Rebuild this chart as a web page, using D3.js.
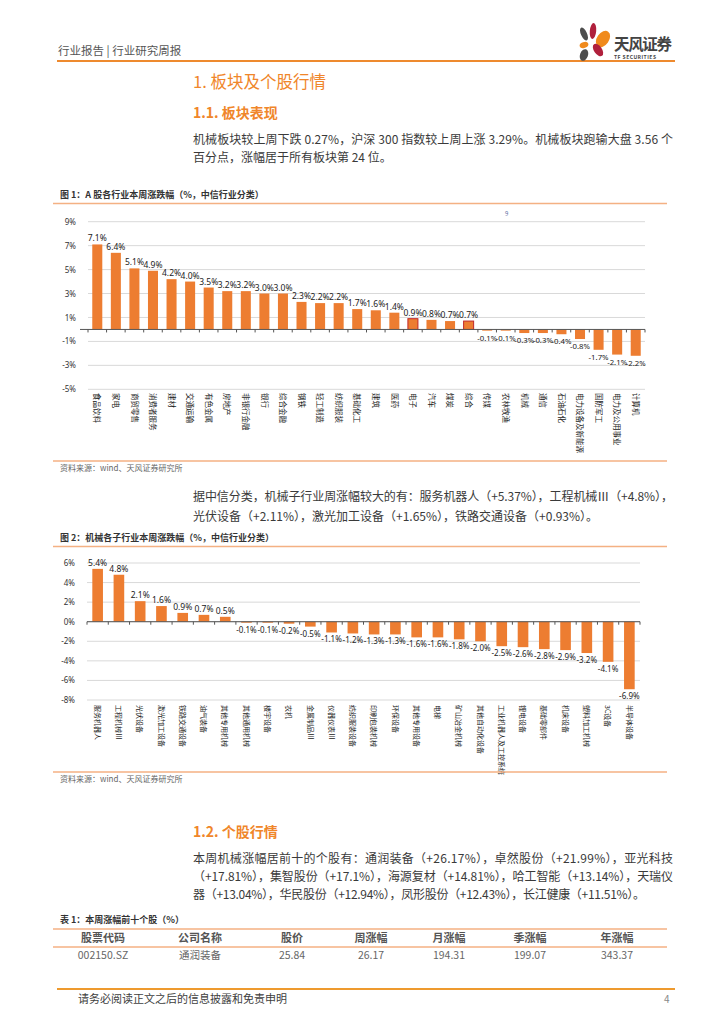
<!DOCTYPE html>
<html><head><meta charset="utf-8">
<script src="https://cdn.jsdelivr.net/npm/d3@7"></script>
<style>
html,body{margin:0;padding:0;background:#fff;}
svg{display:block;font-family:"Noto Sans CJK SC","Noto Sans",sans-serif;}
</style></head>
<body>
<script>
// ---------- data ----------
const industries = ["食品饮料","家电","商贸零售","消费者服务","建材","交通运输","有色金属","房地产","非银行金融","银行","综合金融","钢铁","轻工制造","纺织服装","基础化工","建筑","医药","电子","汽车","煤炭","综合","传媒","农林牧渔","机械","通信","石油石化","电力设备及新能源","国防军工","电力及公用事业","计算机"];
const industryChange = [7.1,6.4,5.1,4.9,4.2,4.0,3.5,3.2,3.2,3.0,3.0,2.3,2.2,2.2,1.7,1.6,1.4,0.9,0.8,0.7,0.7,-0.1,-0.1,-0.3,-0.3,-0.4,-0.8,-1.7,-2.1,-2.2];
const industryTicks = [-5,-3,-1,1,3,5,7,9];
const highlighted = ["电子","综合"];

const subIndustries = ["服务机器人","工程机械Ⅲ","光伏设备","激光加工设备","铁路交通设备","油气装备","其他专用机械","其他通用机械","楼宇设备","农机","金属制品Ⅲ","仪器仪表Ⅲ","纺织服装设备","印刷包装机械","环保设备","其他专用设备","电梯","矿山冶金机械","其他自动化设备","工业机器人及工控系统","锂电设备","基础零部件","机床设备","塑料加工机械","3C设备","半导体设备"];
const subChange = [5.4,4.8,2.1,1.6,0.9,0.7,0.5,-0.1,-0.1,-0.2,-0.5,-1.1,-1.2,-1.3,-1.3,-1.6,-1.6,-1.8,-2.0,-2.5,-2.6,-2.8,-2.9,-3.2,-4.1,-6.9];
const subTicks = [-8,-6,-4,-2,0,2,4,6];

const tableHeader = ["股票代码","公司名称","股价","周涨幅","月涨幅","季涨幅","年涨幅"];
const tableRow = ["002150.SZ","通润装备","25.84","26.17","194.31","199.07","343.37"];

// ---------- page ----------
const W = 724, H = 1024;
const ORANGE = "#ED7D31", HEAD = "#F0862A", LINE = "#F4B183";
const svg = d3.select("body").append("svg").attr("width", W).attr("height", H);

// header
svg.append("text").attr("x",58).attr("y",55).attr("font-size",11.5).attr("fill","#555").text("行业报告 | 行业研究周报");
svg.append("line").attr("x1",57).attr("x2",675).attr("y1",61).attr("y2",61).attr("stroke","#EE8A2E").attr("stroke-width",2);
// logo
const logo = svg.append("g");
[[584,34,3,7,-25,"#4d4d4d"],[593,31,3.2,8,5,"#B0203C"],[603,39,6,9,35,"#F08A1C"],[584,45,4.5,3,-20,"#F08A1C"],[598,50,4,7,-35,"#B0203C"],[584,55,4,6,20,"#4d4d4d"]].forEach(p=>{
  logo.append("ellipse").attr("cx",p[0]).attr("cy",p[1]).attr("rx",p[2]).attr("ry",p[3])
    .attr("transform",`rotate(${p[4]},${p[0]},${p[1]})`).attr("fill",p[5]);
});
logo.append("text").attr("x",614).attr("y",50).attr("font-size",15.5).attr("font-weight","bold").attr("fill","#444").attr("textLength",58).text("天风证券");
logo.append("text").attr("x",614).attr("y",58.5).attr("font-size",5).attr("font-weight","bold").attr("fill","#444").attr("textLength",42).text("TF SECURITIES");

// headings / paragraphs
function para(x,y,txt,len,size){
  const t = svg.append("text").attr("x",x).attr("y",y).attr("font-size",size||12).attr("fill","#3a3a3a").text(txt);
  if(len) t.attr("textLength",len).attr("lengthAdjust","spacing");
  return t;
}
svg.append("text").attr("x",193).attr("y",88).attr("font-size",16.5).attr("fill",HEAD).text("1. 板块及个股行情");
svg.append("text").attr("x",193).attr("y",118).attr("font-size",14).attr("font-weight","bold").attr("fill",HEAD).text("1.1. 板块表现");
para(193,144,"机械板块较上周下跌 0.27%，沪深 300 指数较上周上涨 3.29%。机械板块跑输大盘 3.56 个",480);
para(193,161.5,"百分点，涨幅居于所有板块第 24 位。");

function figTitle(y,txt){
  svg.append("text").attr("x",60).attr("y",y).attr("font-size",9).attr("font-weight","bold").attr("fill","#333").text(txt);
  svg.append("line").attr("x1",53).attr("x2",667).attr("y1",y+5.5).attr("y2",y+5.5).attr("stroke",LINE).attr("stroke-width",1.3);
}
function source(y){
  svg.append("line").attr("x1",53).attr("x2",667).attr("y1",y).attr("y2",y).attr("stroke",LINE).attr("stroke-width",1.3);
  svg.append("text").attr("x",60).attr("y",y+10).attr("font-size",8).attr("fill","#666").text("资料来源：wind、天风证券研究所");
}

// ---------- generic bar chart ----------
function barChart(cfg){
  const g = svg.append("g");
  const x = d3.scaleBand().domain(cfg.cats).range(cfg.xr).paddingInner(cfg.pad).paddingOuter(cfg.pad/2);
  const y = d3.scaleLinear().domain(cfg.yd).range(cfg.yr);
  // grid
  g.selectAll(".grid").data(cfg.ticks).enter().append("line")
    .attr("x1",cfg.xr[0]).attr("x2",cfg.xr[1]).attr("y1",d=>y(d)).attr("y2",d=>y(d))
    .attr("stroke","#d9d9d9").attr("stroke-width",1);
  // y axis labels
  const ya = d3.axisLeft(y).tickValues(cfg.ticks).tickSize(0).tickFormat(d=>d+"%");
  const yg = g.append("g").attr("transform",`translate(${cfg.xr[0]-9},0)`).call(ya);
  yg.select(".domain").remove();
  yg.selectAll("text").attr("font-size",8).attr("fill","#333").attr("font-family","Noto Sans, sans-serif");
  // bars
  g.selectAll(".bar").data(cfg.vals).enter().append("rect")
    .attr("x",(d,i)=>x(cfg.cats[i])).attr("width",x.bandwidth())
    .attr("y",d=>y(Math.max(0,d))).attr("height",d=>Math.abs(y(d)-y(0)))
    .attr("fill",ORANGE)
    .attr("stroke",(d,i)=>cfg.hl && cfg.hl.includes(cfg.cats[i]) ? "#C0282A" : "none")
    .attr("stroke-width",1);
  // zero axis with ticks at band boundaries
  const zero = y(0);
  g.append("line").attr("x1",cfg.xr[0]-(cfg.zeroExt||0)).attr("x2",cfg.xr[1]).attr("y1",zero).attr("y2",zero).attr("stroke","#555").attr("stroke-width",1);
  const bounds = cfg.cats.map(c=>x(c)-x.step()*x.paddingInner()/2).concat([cfg.xr[1]]);
  g.selectAll(".tk").data(bounds).enter().append("line")
    .attr("x1",d=>d).attr("x2",d=>d).attr("y1",zero).attr("y2",zero+3).attr("stroke","#555");
  // value labels
  g.selectAll(".val").data(cfg.vals).enter().append("text")
    .attr("x",(d,i)=>x(cfg.cats[i])+x.bandwidth()/2)
    .attr("y",d=> d>=0 ? y(d)-3 : y(d)+10)
    .attr("text-anchor","middle").attr("font-size",d=> d>=0 ? cfg.valSize : cfg.negSize).attr("fill","#222")
    .attr("font-family","Noto Sans, sans-serif")
    .text(d=>d.toFixed(1)+"%");
  // category labels
  g.selectAll(".cat").data(cfg.cats).enter().append("text")
    .attr("transform",d=>`translate(${x(d)+x.bandwidth()/2-2.8},${cfg.labelY}) rotate(90)`)
    .attr("font-size",cfg.catSize).attr("fill","#222").text(d=>d);
  return g;
}

// Figure 1
figTitle(198,"图 1：A 股各行业本周涨跌幅（%，中信行业分类）");
svg.append("text").attr("x",505).attr("y",216).attr("font-size",6).attr("fill","#5a6aa0").text("9");
barChart({cats:industries, vals:industryChange, ticks:industryTicks, hl:highlighted,
  xr:[88,645], pad:0.46, yd:[-5,9], yr:[389.3,221.7], labelY:393, valSize:8.5, negSize:7.8, catSize:7.5, zeroExt:8});
source(461);

para(193,501,"据中信分类，机械子行业周涨幅较大的有：服务机器人（+5.37%），工程机械Ⅲ（+4.8%），",480);
para(193,521,"光伏设备（+2.11%），激光加工设备（+1.65%），铁路交通设备（+0.93%）。");

// Figure 2
figTitle(541,"图 2：机械各子行业本周涨跌幅（%，中信行业分类）");
barChart({cats:subIndustries, vals:subChange, ticks:subTicks,
  xr:[87,640], pad:0.5, yd:[-8,6], yr:[700,563], labelY:705, valSize:8.5, negSize:8, catSize:7});
source(772);

svg.append("text").attr("x",193).attr("y",837).attr("font-size",14).attr("font-weight","bold").attr("fill",HEAD).text("1.2. 个股行情");
para(193,863,"本周机械涨幅居前十的个股有：通润装备（+26.17%），卓然股份（+21.99%），亚光科技",480);
para(193,881,"（+17.81%），集智股份（+17.1%），海源复材（+14.81%），哈工智能（+13.14%），天瑞仪",480);
para(193,899,"器（+13.04%），华民股份（+12.94%），凤形股份（+12.43%），长江健康（+11.51%）。",452);

// table
svg.append("text").attr("x",60).attr("y",923).attr("font-size",9).attr("font-weight","bold").attr("fill","#333").text("表 1：本周涨幅前十个股（%）");
svg.append("line").attr("x1",53).attr("x2",667).attr("y1",929).attr("y2",929).attr("stroke",LINE).attr("stroke-width",1.3);
svg.append("line").attr("x1",53).attr("x2",667).attr("y1",947).attr("y2",947).attr("stroke",LINE).attr("stroke-width",1.3);
const colX = [103,200,292,371,449,530,617];
svg.selectAll(".th").data(tableHeader).enter().append("text")
  .attr("x",(d,i)=>colX[i]).attr("y",942).attr("text-anchor","middle").attr("font-size",11).attr("font-weight","bold").attr("fill","#555").text(d=>d);
svg.selectAll(".td").data(tableRow).enter().append("text")
  .attr("x",(d,i)=>colX[i]).attr("y",959).attr("text-anchor","middle").attr("font-size",10.5).attr("fill","#666").text(d=>d);

// footer
svg.append("line").attr("x1",57).attr("x2",675).attr("y1",989).attr("y2",989).attr("stroke","#EE9A2E").attr("stroke-width",2);
svg.append("text").attr("x",78).attr("y",1003).attr("font-size",11).attr("fill","#404040").text("请务必阅读正文之后的信息披露和免责申明");
svg.append("text").attr("x",664).attr("y",1003).attr("font-size",10).attr("fill","#888").text("4");
</script>
</body></html>
